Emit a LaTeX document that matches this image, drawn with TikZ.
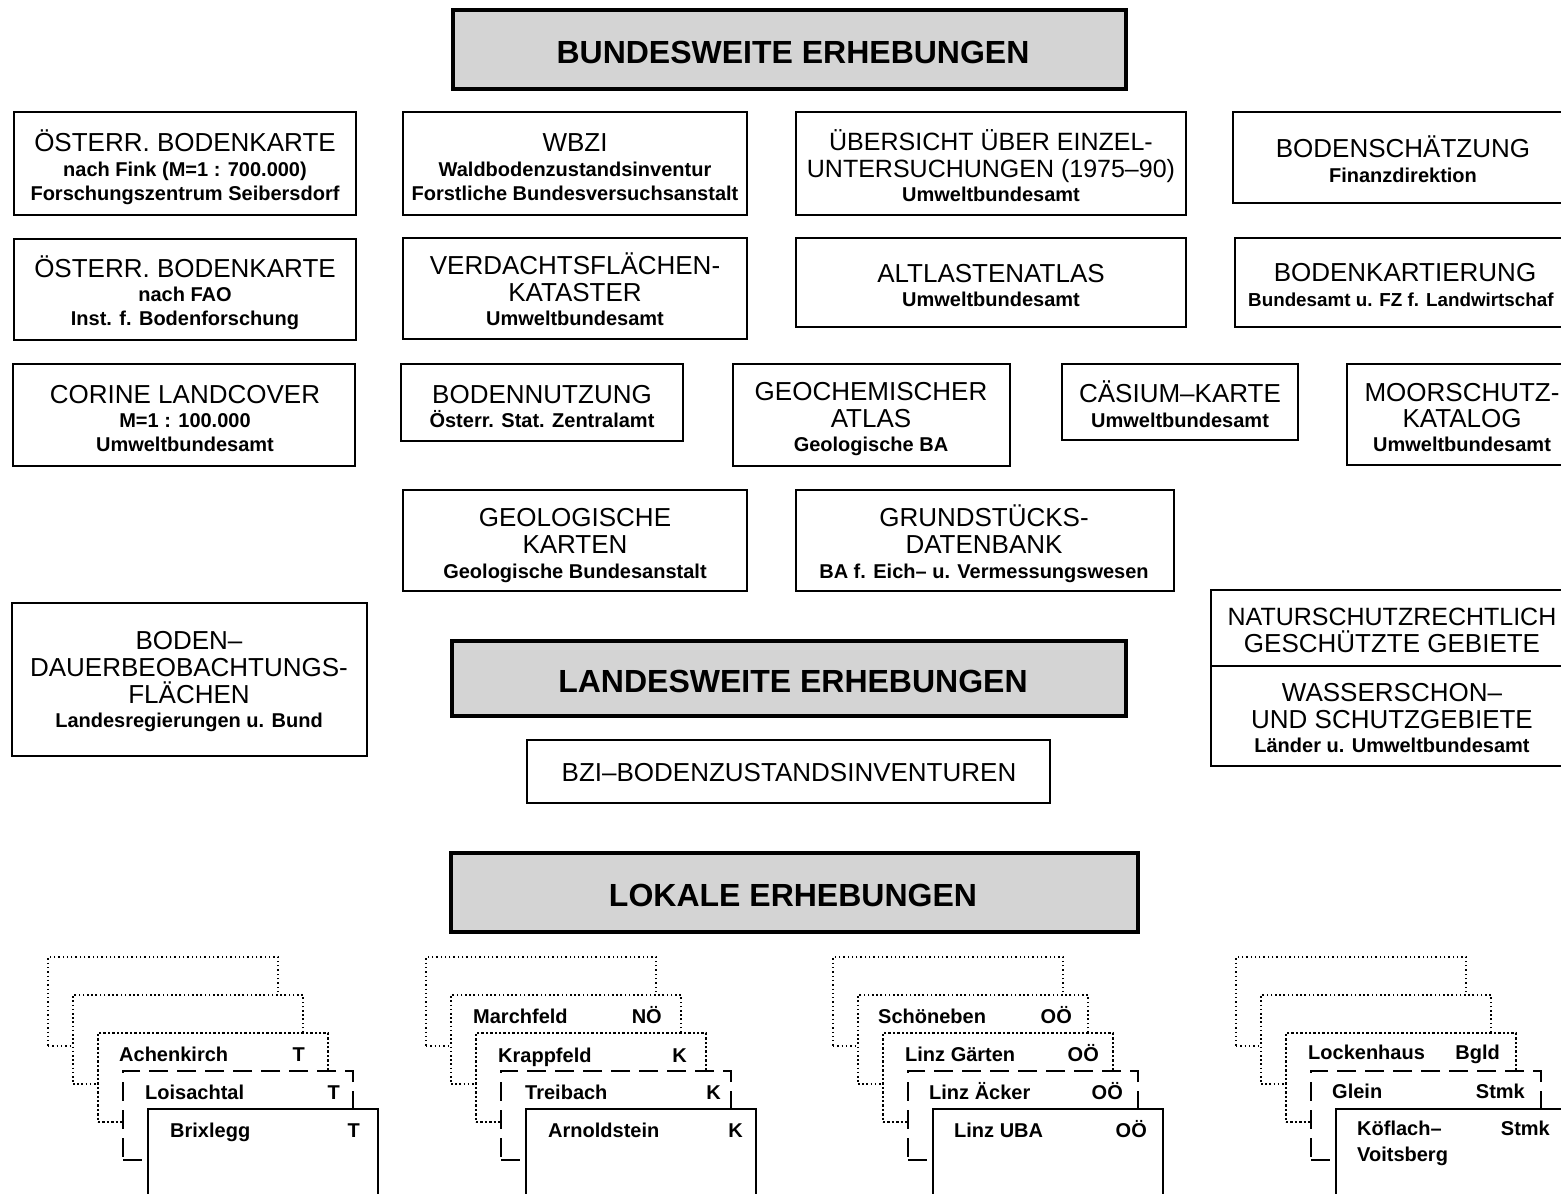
\documentclass[tikz,border=0pt]{standalone}
\usepackage{fontspec}
\setmainfont{Liberation Sans}
\tikzset{
  bx/.style={draw, line width=2pt, fill=white, inner sep=0pt, outer sep=0pt},
  hdr/.style={draw, line width=3.5pt, fill=black!17, inner sep=0pt, outer sep=0pt},
  ttl/.style={font=\fontsize{26}{27}\selectfont, anchor=base, inner sep=0pt, yshift=-9.3pt},
  ttls/.style={font=\fontsize{25}{27}\selectfont, anchor=base, inner sep=0pt, yshift=-9pt},
  sub/.style={font=\bfseries\fontsize{20}{22}\selectfont, anchor=base, inner sep=0pt, yshift=-7.2pt},
  subs/.style={font=\bfseries\fontsize{18.8}{22}\selectfont, anchor=base, inner sep=0pt, yshift=-7pt},
  htx/.style={font=\bfseries\fontsize{32}{34}\selectfont, anchor=base, inner sep=0pt, yshift=-11.5pt},
  crd/.style={font=\bfseries\fontsize{20}{22}\selectfont, inner sep=0pt},
  card/.style={anchor=north west, minimum width=230pt, minimum height=89pt, fill=white, inner sep=0pt, outer sep=0pt},
  cdA/.style={card, draw, line width=1.3pt, dash pattern=on 1.3pt off 3pt},
  cdB/.style={card, draw, line width=1.6pt, dash pattern=on 1.6pt off 2.6pt},
  cdC/.style={card, draw, line width=2.4pt, dash pattern=on 2.4pt off 2pt},
  cdD/.style={card, draw, line width=2.5pt, dash pattern=on 19pt off 9pt},
  cdE/.style={card, draw, line width=2.5pt},
}
\newcommand\mkbox[6][bx]{\node[#1, minimum width={#5pt-#3pt}, minimum height={#6pt-#4pt}] (#2) at ({(#3+#5)/2},{(#4+#6)/2}) {};}
\newcommand\cardstack[2]{%
  \node[cdA] (#1a) at (#2,957) {};
  \node[cdB] (#1b) at (#2+25,995) {};
  \node[cdC] (#1c) at (#2+50,1033) {};
  \node[cdD] (#1d) at (#2+75,1071) {};
  \node[cdE] (#1e) at (#2+100,1109) {};}
\begin{document}
\begin{tikzpicture}[x=1pt,y=-1pt]
\useasboundingbox (0,0) rectangle (1561,1194);
\clip (0,0) rectangle (1561,1194);
\fill[white] (0,0) rectangle (1561,1194);

% Header 1
\mkbox[hdr]{h1}{453}{10}{1126}{89}
\node[htx] (h1t) at (793,52) {BUNDESWEITE ERHEBUNGEN};

% Row 1
\mkbox{b1}{14}{112}{356}{215}
\node[ttl] (b1t) at (185,142) {ÖSTERR. BODENKARTE};
\node[sub] (b1s) at (185,169) {nach Fink (M=1 : 700.000)};
\node[sub] (b1u) at (185,193) {Forschungszentrum Seibersdorf};

\mkbox{b2}{403}{112}{747}{215}
\node[ttl] (b2t) at (575,142) {WBZI};
\node[sub] (b2s) at (575,169) {Waldbodenzustandsinventur};
\node[sub] (b2u) at (575,193) {Forstliche Bundesversuchsanstalt};

\mkbox{b3}{796}{112}{1186}{215}
\node[ttls] (b3t) at (991,141) {ÜBERSICHT ÜBER EINZEL-};
\node[ttls] (b3v) at (991,168) {UNTERSUCHUNGEN (1975–90)};
\node[sub] (b3s) at (991,194) {Umweltbundesamt};

\mkbox{b4}{1233}{112}{1580}{203}
\node[ttl] (b4t) at (1403,148) {BODENSCHÄTZUNG};
\node[sub] (b4s) at (1403,175) {Finanzdirektion};

% Row 2
\mkbox{c1}{14}{239}{356}{340}
\node[ttl] (c1t) at (185,268) {ÖSTERR. BODENKARTE};
\node[sub] (c1s) at (185,294) {nach FAO};
\node[sub] (c1u) at (185,318) {Inst. f. Bodenforschung};

\mkbox{c2}{403}{238}{747}{339}
\node[ttl] (c2t) at (575,265) {VERDACHTSFLÄCHEN-};
\node[ttl] (c2v) at (575,292) {KATASTER};
\node[sub] (c2s) at (575,318) {Umweltbundesamt};

\mkbox{c3}{796}{238}{1186}{327}
\node[ttl] (c3t) at (991,273) {ALTLASTENATLAS};
\node[sub] (c3s) at (991,299) {Umweltbundesamt};

\mkbox{c4}{1235}{238}{1580}{327}
\node[ttl] (c4t) at (1405,272) {BODENKARTIERUNG};
\node[subs, anchor=base west] (c4s) at (1248,299) {Bundesamt u. FZ f. Landwirtschaf};

% Row 3
\mkbox{d1}{13}{364}{355}{466}
\node[ttl] (d1t) at (185,394) {CORINE LANDCOVER};
\node[sub] (d1s) at (185,420) {M=1 : 100.000};
\node[sub] (d1u) at (185,444) {Umweltbundesamt};

\mkbox{d2}{401}{364}{683}{441}
\node[ttl] (d2t) at (542,394) {BODENNUTZUNG};
\node[sub] (d2s) at (542,420) {Österr. Stat. Zentralamt};

\mkbox{d3}{733}{364}{1010}{466}
\node[ttl] (d3t) at (871,391) {GEOCHEMISCHER};
\node[ttl] (d3v) at (871,418) {ATLAS};
\node[sub] (d3s) at (871,444) {Geologische BA};

\mkbox{d4}{1062}{364}{1298}{440}
\node[ttl] (d4t) at (1180,393) {CÄSIUM–KARTE};
\node[sub] (d4s) at (1180,420) {Umweltbundesamt};

\mkbox{d5}{1347}{364}{1580}{465}
\node[ttl] (d5t) at (1462,392) {MOORSCHUTZ-};
\node[ttl] (d5v) at (1462,418) {KATALOG};
\node[sub] (d5s) at (1462,444) {Umweltbundesamt};

% Row 4
\mkbox{e1}{403}{490}{747}{591}
\node[ttl] (e1t) at (575,517) {GEOLOGISCHE};
\node[ttl] (e1v) at (575,544) {KARTEN};
\node[sub] (e1s) at (575,571) {Geologische Bundesanstalt};

\mkbox{e2}{796}{490}{1174}{591}
\node[ttl] (e2t) at (984,517) {GRUNDSTÜCKS-};
\node[ttl] (e2v) at (984,544) {DATENBANK};
\node[sub] (e2s) at (984,571) {BA f. Eich– u. Vermessungswesen};

% Left and right blocks
\mkbox{f1}{12}{603}{367}{756}
\node[ttl] (f1t) at (189,640) {BODEN–};
\node[ttl] (f1v) at (189,667) {DAUERBEOBACHTUNGS-};
\node[ttl] (f1w) at (189,694) {FLÄCHEN};
\node[sub] (f1s) at (189,720) {Landesregierungen u. Bund};

\mkbox{f2}{1211}{590}{1580}{766}
\draw[line width=2pt] (f2.west |- 0,666) -- (f2.east |- 0,666);
\node[ttls] (f2t) at (1392,616) {NATURSCHUTZRECHTLICH};
\node[ttl] (f2v) at (1392,643) {GESCHÜTZTE GEBIETE};
\node[ttl] (f2w) at (1392,692) {WASSERSCHON–};
\node[ttl] (f2x) at (1392,719) {UND SCHUTZGEBIETE};
\node[sub] (f2s) at (1392,745) {Länder u. Umweltbundesamt};

% Header 2 and BZI
\mkbox[hdr]{h2}{452}{641}{1126}{716}
\node[htx] (h2t) at (793,681) {LANDESWEITE ERHEBUNGEN};
\mkbox{g1}{527}{740}{1050}{803}
\node[ttl] (g1t) at (789,772) {BZI–BODENZUSTANDSINVENTUREN};

% Header 3
\mkbox[hdr]{h3}{451}{853}{1138}{932}
\node[htx] (h3t) at (793,895) {LOKALE ERHEBUNGEN};

% Card stacks
\cardstack{p}{48}
\cardstack{q}{426}
\cardstack{r}{833}
\cardstack{s}{1236}

\node[crd, anchor=base west] (pct) at (119,1061) {Achenkirch};
\node[crd, anchor=base east] (pcr) at (305,1061) {T};
\node[crd, anchor=base west] (pdt) at (145,1099) {Loisachtal};
\node[crd, anchor=base east] (pdr) at (340,1099) {T};
\node[crd, anchor=base west] (pet) at (170,1137) {Brixlegg};
\node[crd, anchor=base east] (per) at (360,1137) {T};

\node[crd, anchor=base west] (qbt) at (473,1023) {Marchfeld};
\node[crd, anchor=base east] (qbr) at (662,1023) {NÖ};
\node[crd, anchor=base west] (qct) at (498,1062) {Krappfeld};
\node[crd, anchor=base east] (qcr) at (687,1062) {K};
\node[crd, anchor=base west] (qdt) at (525,1099) {Treibach};
\node[crd, anchor=base east] (qdr) at (721,1099) {K};
\node[crd, anchor=base west] (qet) at (548,1137) {Arnoldstein};
\node[crd, anchor=base east] (qer) at (743,1137) {K};

\node[crd, anchor=base west] (rbt) at (878,1023) {Schöneben};
\node[crd, anchor=base east] (rbr) at (1072,1023) {OÖ};
\node[crd, anchor=base west] (rct) at (905,1061) {Linz Gärten};
\node[crd, anchor=base east] (rcr) at (1099,1061) {OÖ};
\node[crd, anchor=base west] (rdt) at (929,1099) {Linz Äcker};
\node[crd, anchor=base east] (rdr) at (1123,1099) {OÖ};
\node[crd, anchor=base west] (ret) at (954,1137) {Linz UBA};
\node[crd, anchor=base east] (rer) at (1147,1137) {OÖ};

\node[crd, anchor=base west] (sct) at (1308,1059) {Lockenhaus};
\node[crd, anchor=base east] (scr) at (1500,1059) {Bgld};
\node[crd, anchor=base west] (sdt) at (1332,1098) {Glein};
\node[crd, anchor=base east] (sdr) at (1525,1098) {Stmk};
\node[crd, anchor=base west] (set) at (1357,1135) {Köflach–};
\node[crd, anchor=base west] (seu) at (1357,1161) {Voitsberg};
\node[crd, anchor=base east] (ser) at (1550,1135) {Stmk};
\end{tikzpicture}
\end{document}
